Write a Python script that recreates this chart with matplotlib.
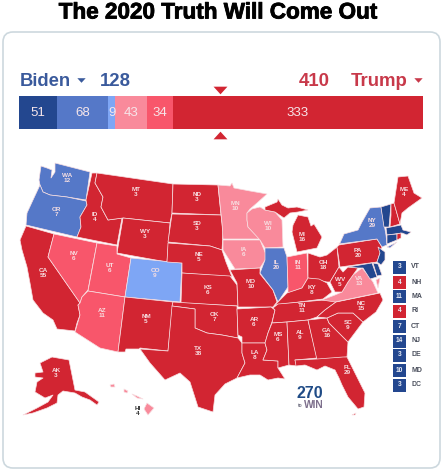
import matplotlib
matplotlib.use('Agg')
import matplotlib.patheffects as pe
import matplotlib.pyplot as plt
from matplotlib.patches import FancyBboxPatch, Polygon, Rectangle

plt.rcParams['font.family'] = ['Liberation Sans', 'DejaVu Sans']

# colours
SAFE_D = '#23478f'
LIKELY_D = '#5578c8'
LEAN_D = '#7ea6f5'
TILT_R = '#f98a9b'
LIKELY_R = '#f8566b'
SAFE_R = '#d22532'
BIDEN_TEXT = '#3a5a9c'
TRUMP_TEXT = '#c8394a'

# bar on top
bar_values = [51, 68, 9, 43, 34, 333]
bar_colors = [SAFE_D, LIKELY_D, LEAN_D, TILT_R, LIKELY_R, SAFE_R]
biden_total = 128
trump_total = 410

# state groups by colour
safe_d_states = ['VT', 'MA', 'CT', 'NJ', 'DE', 'MD']
likely_d_states = ['WA', 'OR', 'NY', 'IL']
lean_d_states = ['CO']
tilt_r_states = ['MN', 'WI', 'IA', 'VA', 'HI']
likely_r_states = ['NV', 'UT', 'AZ', 'IN']

# outlines (pixels)
west = {
    'WA': [(41,166),(47,168),(52,170),(51,178),(55,172),(55,163),(90,172),(86,200),(67,197),(50,195),(43,192),(40,185),(39,180)],
    'OR': [(40,185),(43,192),(50,195),(67,197),(86,201),(87,205),(80,217),(81,227),(77,237),(26,225),(27,213),(33,200)],
    'CA': [(26,226),(54,234),(48,257),(80,303),(78,305),(80,315),(77,323),(75,331),(57,329),(53,320),(43,313),(33,300),(30,283),(27,267),(22,250),(20,240)],
    'NV': [(54,234),(97,243),(88,290),(82,297),(80,303),(48,257)],
    'ID': [(92,173),(97,173),(95,183),(103,197),(101,207),(108,220),(122,218),(117,245),(77,237),(81,227),(80,217),(87,205),(86,200)],
    'MT': [(97,173),(173,184),(172,213),(170,223),(123,218),(108,220),(101,207),(103,197),(95,183)],
    'WY': [(123,218),(170,223),(167,262),(117,253)],
    'UT': [(97,243),(117,246),(117,254),(131,258),(125,297),(88,291)],
    'CO': [(131,258),(182,263),(180,302),(125,297)],
    'AZ': [(88,291),(125,297),(118,352),(100,348),(75,332),(80,315),(78,305),(80,303),(82,297)],
    'NM': [(125,297),(173,302),(168,351),(140,348),(139,349),(126,349),(125,352),(118,352)],
}
plains = {
    'ND': [(173,184),(218,185),(221,215),(172,213)],
    'SD': [(172,214),(221,215),(223,232),(222,250),(210,246),(168,242)],
    'NE': [(168,243),(210,246),(222,250),(226,262),(232,277),(182,273),(182,263),(167,262)],
    'KS': [(182,273),(230,276),(237,285),(238,306),(181,303)],
    'OK': [(173,302),(237,306),(238,338),(222,335),(207,333),(195,328),(195,309),(172,306)],
    'TX': [(172,306),(195,309),(195,328),(207,333),(222,335),(238,338),(242,343),(242,353),(245,363),(237,378),(225,384),(215,395),(213,412),(198,407),(190,382),(180,373),(165,380),(150,363),(140,349),(168,351)],
    'MN': [(218,185),(230,186),(232,183),(234,188),(250,191),(267,194),(257,203),(250,209),(247,213),(247,220),(248,227),(260,239),(223,239),(222,223)],
    'IA': [(223,240),(260,240),(267,257),(260,268),(235,269),(223,250)],
    'MO': [(230,270),(260,268),(260,274),(273,290),(277,302),(273,307),(238,307),(237,283)],
    'AR': [(237,309),(271,307),(275,310),(272,322),(268,333),(265,343),(242,343),(242,337),(238,335)],
    'LA': [(242,343),(265,343),(267,350),(263,360),(278,361),(278,368),(285,379),(278,378),(268,380),(260,375),(250,375),(237,378),(245,363),(242,353)],
}
midwest = {
    'WI': [(247,213),(252,209),(260,207),(265,210),(275,212),(282,220),(283,247),(265,248),(260,240),(248,227),(247,220)],
    'IL': [(265,248),(284,248),(287,257),(288,287),(278,302),(273,290),(260,273),(265,260)],
    'IN': [(287,257),(307,253),(308,278),(302,288),(288,293),(288,287)],
    'OH': [(308,253),(320,257),(327,255),(337,247),(339,267),(330,282),(327,282),(308,278)],
    'MI': [(293,225),(298,215),(308,217),(311,226),(314,224),(322,237),(317,248),(297,252),(294,240),(292,232)],
    'MI2': [(265,207),(277,202),(278,199),(282,205),(288,208),(297,207),(308,210),(298,212),(290,213),(284,218),(275,212),(265,210)],
    'KY': [(275,305),(280,300),(287,293),(302,288),(308,278),(319,279),(327,283),(332,292),(323,299)],
    'TN': [(273,308),(278,304),(336,299),(336,302),(325,310),(317,317),(308,320),(287,322),(272,323),(275,310)],
}
south = {
    'MS': [(272,323),(287,322),(289,365),(278,368),(278,361),(263,360),(267,350),(265,343),(268,333)],
    'AL': [(287,322),(308,320),(317,358),(295,360),(297,366),(289,365)],
    'GA': [(308,320),(327,318),(329,323),(348,342),(347,357),(317,360)],
    'FL': [(295,360),(317,359),(343,357),(347,357),(357,377),(365,393),(364,407),(358,409),(348,397),(342,385),(339,378),(335,370),(325,366),(317,370),(305,365),(296,366)],
    'FL2': [(352,415),(356,413),(355,415)],
    'SC': [(327,318),(338,313),(353,313),(363,322),(348,342),(329,323)],
    'NC': [(336,302),(380,293),(383,300),(376,312),(363,322),(353,313),(338,313),(327,318),(317,317),(325,310)],
    'VA': [(322,300),(335,295),(342,292),(348,282),(353,275),(362,268),(368,275),(373,282),(378,293),(335,302)],
    'VA2': [(376,280),(380,278),(378,288)],
    'WV': [(330,282),(335,292),(342,292),(348,282),(353,275),(358,268),(348,267),(343,272),(339,267)],
}
northeast = {
    'PA': [(337,247),(339,245),(377,239),(382,247),(377,262),(340,267)],
    'NY': [(340,243),(344,234),(358,230),(362,222),(370,208),(381,207),(386,235),(387,245),(382,247),(377,239),(339,244)],
    'NY2': [(387,247),(397,242),(390,248)],
    'VT': [(381,207),(391,204),(389,227),(384,227)],
    'NH': [(391,204),(394,203),(400,224),(390,227),(391,215)],
    'ME': [(394,203),(398,177),(408,176),(414,193),(422,198),(408,208),(402,213),(400,224)],
    'MA': [(386,228),(401,225),(403,230),(411,232),(407,235),(402,233),(387,235)],
    'CT': [(387,235),(397,234),(397,240),(387,244)],
    'RI': [(397,234),(401,233),(401,238),(397,240)],
    'NJ': [(378,247),(385,252),(385,260),(381,265),(377,262),(380,253)],
    'MD': [(348,267),(372,263),(377,277),(370,279),(363,268),(358,268)],
    'DE': [(373,263),(378,264),(382,275),(377,276)],
}
islands = {
    'AK': [(40,363),(52,357),(69,360),(75,390),(85,392),(92,397),(99,402),(97,405),(90,400),(82,397),(75,393),(63,391),(58,395),(57,403),(47,408),(33,413),(23,415),(37,408),(48,402),(53,395),(45,398),(40,395),(35,392),(37,382),(43,378),(35,377),(35,373),(43,372)],
    'HI': [(147,403),(154,408),(148,415),(144,409)],
    'HI2': [(110,385),(114,384),(115,387),(111,387)],
    'HI3': [(124,389),(128,391),(127,393),(124,392)],
    'HI4': [(132,394),(137,396),(143,399),(137,398)],
}

# labels: state, votes, x, y
label_states = ['WA','OR','CA','NV','UT','CO','AZ','NM','ID','MT','WY','ND','SD','NE','KS','OK','TX',
                'MN','IA','MO','AR','LA','WI','IL','MI','IN','OH','KY','TN','MS','AL','GA','FL','SC',
                'NC','VA','WV','PA','NY','ME','AK']
label_votes = [12,7,55,6,6,9,11,5,4,3,3,3,3,5,6,7,38,10,6,10,6,8,10,20,16,11,18,8,11,6,9,16,29,9,15,13,5,20,29,4,3]
label_x = [67,56,43,74,110,155,102,146,95,136,145,197,197,199,208,214,198,235,244,251,254,255,268,276,302,298,323,312,302,278,300,327,347,348,361,359,340,358,372,404,56]
label_y = [178,212,273,256,268,273,313,319,217,192,234,197,226,257,290,317,351,206,252,284,322,355,226,265,237,265,265,290,308,337,335,333,370,325,306,281,282,253,223,192,373]

# small state key at the right
key_states = ['VT','NH','MA','RI','CT','NJ','DE','MD','DC']
key_votes = [3,4,11,4,7,14,3,10,3]
key_y = [267,282,296,311,326,341,355,370,385]

# flat caret marker
CARET_DOWN = [(-1, 0.55), (1, 0.55), (0, -0.55)]
CARET_UP = [(-1, -0.55), (1, -0.55), (0, 0.55)]


def state_color(name):
    name = name[:2]
    if name in safe_d_states:
        return SAFE_D
    if name in likely_d_states:
        return LIKELY_D
    if name in lean_d_states:
        return LEAN_D
    if name in tilt_r_states:
        return TILT_R
    if name in likely_r_states:
        return LIKELY_R
    return SAFE_R


fig = plt.figure(figsize=(4.44, 4.72), dpi=100)
ax = fig.add_axes([0, 0, 1, 1])
ax.set_xlim(0, 444)
ax.set_ylim(472, 0)
ax.axis('off')

ax.add_patch(FancyBboxPatch((3, 32), 437, 436, boxstyle='round,pad=0,rounding_size=10',
                            fc='white', ec='#cdd8de', lw=1.2))
ax.text(218, 13, 'The 2020 Truth Will Come Out', ha='center', va='center',
        fontsize=16.2, fontweight='bold', color='black',
        path_effects=[pe.withStroke(linewidth=0.6, foreground='black')])

# header
ax.text(20, 81, 'Biden', color=BIDEN_TEXT, fontsize=13.2, fontweight='bold', va='center')
ax.plot([80.5], [80], marker=CARET_DOWN, color=BIDEN_TEXT, ms=6, mew=0)
ax.text(100, 81, str(biden_total), color=BIDEN_TEXT, fontsize=13.4, fontweight='bold', va='center')
ax.text(330, 81, str(trump_total), color=TRUMP_TEXT, fontsize=13.4, fontweight='bold', va='center', ha='right')
ax.text(351, 81, 'Trump', color=TRUMP_TEXT, fontsize=13.4, fontweight='bold', va='center')
ax.plot([418], [80], marker=CARET_DOWN, color=TRUMP_TEXT, ms=6, mew=0)
ax.plot([220], [90], marker=CARET_DOWN, color=SAFE_R, ms=10, mew=0)
ax.plot([220], [135], marker=CARET_UP, color=SAFE_R, ms=10, mew=0)

# map
for group in [west, plains, midwest, south, northeast, islands]:
    for name, points in group.items():
        ax.add_patch(Polygon(points, closed=True, fc=state_color(name), ec='#f8dfe2', lw=0.5, joinstyle='round'))

for state, votes, x, y in zip(label_states, label_votes, label_x, label_y):
    ax.text(x, y, '%s\n%d' % (state, votes), ha='center', va='center', fontsize=4.6,
            fontweight='bold', color='#f7dfe2', linespacing=0.95)
ax.text(138, 411, 'HI\n4', ha='center', va='center', fontsize=4.6, fontweight='bold',
        color='#333333', linespacing=0.95)

# key
for state, votes, y in zip(key_states, key_votes, key_y):
    color = SAFE_R if state in ['NH', 'RI'] else SAFE_D
    ax.add_patch(Rectangle((393, y - 6.5), 13, 13, fc=color, ec='none'))
    ax.text(399.5, y, str(votes), ha='center', va='center', fontsize=4.8, fontweight='bold', color='#e8ecf5')
    ax.text(411, y, state, ha='left', va='center', fontsize=5, fontweight='bold', color='#4a4f5c')

# logo
ax.text(310, 393.5, '270', ha='center', va='center', fontsize=11.5, fontweight='bold', color='#1f4b86')
ax.text(297.5, 405.5, 'to', ha='left', va='center', fontsize=3.6, color='#7a7a8a', fontweight='bold')
ax.text(304, 405.5, 'WIN', ha='left', va='center', fontsize=7.4, color='#7d6f8c', fontweight='bold')

# stacked bar
bar_ax = fig.add_axes([19 / 444, 1 - 129 / 472, 404 / 444, 33 / 472])
bar_ax.set_xlim(0, sum(bar_values))
bar_ax.set_ylim(0, 1)
bar_ax.axis('off')
left = 0
for value, color in zip(bar_values, bar_colors):
    bar_ax.barh(0.5, value, left=left, height=1, color=color)
    bar_ax.text(left + value / 2, 0.5, str(value), ha='center', va='center', fontsize=9.5,
                color='#f6e6ea')
    left += value

fig.savefig('out.png', dpi=100)
